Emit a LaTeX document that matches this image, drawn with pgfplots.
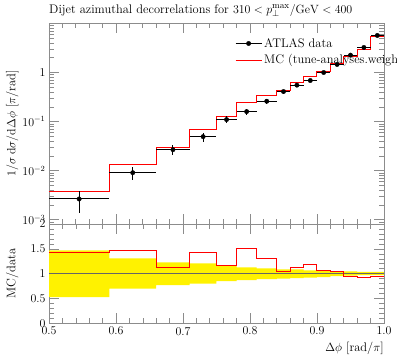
\documentclass[border=0pt]{standalone}
\usepackage{pgfplots}
\pgfplotsset{compat=1.18}
\usepgfplotslibrary{fillbetween}
\usepackage{pgfplotstable}

% data: bin centre, half width, value, abs. error
\pgfplotstableread{
x     ex     y        ey
0.545 0.045  0.00265  0.00125
0.625 0.035  0.0091   0.00278
0.685 0.025  0.0268   0.0062
0.730 0.020  0.0494   0.0101
0.765 0.015  0.110    0.0176
0.795 0.015  0.160    0.0208
0.825 0.015  0.260    0.0286
0.850 0.010  0.410    0.039
0.870 0.010  0.553    0.050
0.890 0.010  0.687    0.052
0.910 0.010  1.00     0.070
0.930 0.010  1.46     0.073
0.950 0.010  2.26     0.100
0.970 0.010  3.24     0.113
0.990 0.010  5.69     0.200
}\datatab

% MC: bin lower edge, value (last row closes the final bin)
\pgfplotstableread{
x     y
0.50  0.00379
0.59  0.0133
0.66  0.0303
0.71  0.0706
0.75  0.128
0.78  0.242
0.81  0.341
0.84  0.426
0.86  0.625
0.88  0.818
0.90  1.07
0.92  1.52
0.94  2.15
0.96  3.01
0.98  5.35
1.00  5.35
}\mctab

% ratio: bin lower edge, MC/data, band upper, band lower
\pgfplotstableread{
x     r     up    lo
0.50  1.43  1.47  0.53
0.59  1.46  1.31  0.70
0.66  1.13  1.23  0.77
0.71  1.43  1.21  0.80
0.75  1.166 1.17  0.85
0.78  1.51  1.13  0.87
0.81  1.31  1.11  0.89
0.84  1.04  1.09  0.90
0.86  1.13  1.09  0.91
0.88  1.19  1.07  0.92
0.90  1.07  1.07  0.93
0.92  1.04  1.05  0.95
0.94  0.95  1.05  0.96
0.96  0.93  1.04  0.97
0.98  0.94  1.04  0.97
1.00  0.94  1.04  0.97
}\ratiotab

\begin{document}
\begin{tikzpicture}[x=1bp,y=1bp]
\pgfplotsset{
  every axis/.append style={
    scale only axis, width=335bp, xmin=0.5, xmax=1.0,
    axis line style={black!45}, tick style={black!45, line width=0.6bp},
    major tick length=10bp, minor tick length=5bp,
    tick align=inside,
    xtick={0.5,0.6,0.7,0.8,0.9,1.0}, minor x tick num=4,
    font=\fontsize{12.5}{14}\selectfont,
    tick label style={font=\fontsize{12}{14}\selectfont},
    every axis y label/.style={at={(axis description cs:-0.11,0.5)}, rotate=90, anchor=center},
    every axis title shift=0pt,
  }
}
\begin{axis}[at={(49bp,134bp)}, anchor=south west, height=201bp,
  ymode=log, ymin=8.2e-4, ymax=10.2,
  xticklabels={},
  ytick={0.001,0.01,0.1,1},
  yticklabels={$10^{-3}$,$10^{-2}$,$10^{-1}$,$1$},
  minor ytick={0.0009,0.002,0.003,0.004,0.005,0.006,0.007,0.008,0.009,
    0.02,0.03,0.04,0.05,0.06,0.07,0.08,0.09,
    0.2,0.3,0.4,0.5,0.6,0.7,0.8,0.9,
    2,3,4,5,6,7,8,9,10},
  ylabel={$1/\sigma\;\mathrm{d}\sigma/\mathrm{d}\Delta\phi$ [$\pi$/rad]},
  title={Dijet azimuthal decorrelations for $310 < p_\perp^{\max}/\mathrm{GeV} < 400$},
  title style={at={(axis description cs:0,1)}, anchor=base west, yshift=10bp, inner sep=0pt},
  legend style={draw=none, fill=none, at={(axis description cs:0.555,0.935)}, anchor=north west,
    font=\fontsize{12.5}{14}\selectfont, row sep=2bp, inner sep=0pt,
    nodes={inner sep=2bp}},
  legend cell align=left,
]
\addlegendimage{legend image code/.code={
  \draw[black, line width=1bp] (-6bp,0bp) -- (20bp,0bp);
  \fill[black] (7bp,0bp) circle (2.2bp);}}
\addlegendentry{ATLAS data}
\addlegendimage{legend image code/.code={
  \draw[red, line width=1bp] (-6bp,0bp) -- (20bp,0bp);}}
\addlegendentry{MC (tune-analyses.weights)}
\addplot[red, line width=1bp, const plot mark left, forget plot] table[x=x, y=y] {\mctab};
\addplot[black, mark=*, mark size=2.2bp, only marks, forget plot,
  error bars/.cd, x dir=both, x explicit, y dir=both, y explicit,
  error bar style={black, line width=1bp}, error mark=none]
  table[x=x, y=y, x error=ex, y error=ey] {\datatab};
\end{axis}

\begin{axis}[at={(49bp,34.5bp)}, anchor=south west, height=99.5bp,
  ymin=0, ymax=2,
  ytick={0,0.5,1,1.5,2}, yticklabels={0,0.5,1,1.5,2}, minor y tick num=4,
  xticklabels={0.5,0.6,0.7,0.8,0.9,1.0},
  ylabel={MC/data},
  xlabel={$\Delta\phi$ [rad/$\pi$]},
  xlabel style={at={(axis description cs:1,0)}, anchor=base east, yshift=-27.5bp, inner sep=0pt},
]
\addplot[name path=up, draw=none, const plot mark left, forget plot] table[x=x, y=up] {\ratiotab};
\addplot[name path=lo, draw=none, const plot mark left, forget plot] table[x=x, y=lo] {\ratiotab};
\addplot[yellow, draw=none] fill between[of=up and lo];
\addplot[black!60, line width=0.6bp] coordinates {(0.5,1) (1.0,1)};
\addplot[red, line width=1bp, const plot mark left] table[x=x, y=r] {\ratiotab};
\end{axis}
\pgfresetboundingbox
\useasboundingbox (0,0) rectangle (397bp,358bp);
\end{tikzpicture}
\end{document}
